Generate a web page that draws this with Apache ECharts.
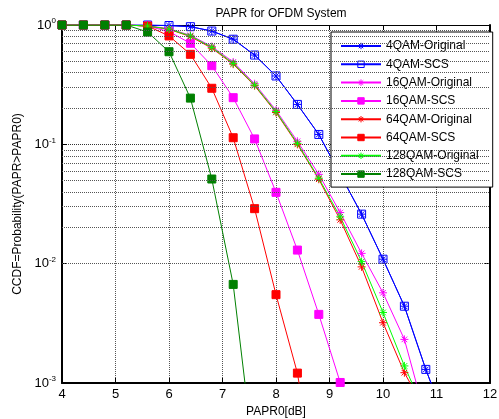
<!DOCTYPE html>
<html>
<head>
<meta charset="utf-8">
<script src="https://cdn.jsdelivr.net/npm/echarts@6/dist/echarts.min.js"></script>
<style>
  html, body { margin: 0; padding: 0; background: #fff; }
  #chart { width: 499px; height: 419px; }
</style>
</head>
<body>
<div id="chart"></div>
<script>
// PAPR0 en dB (pas de 0.4)
const papr = [4, 4.4, 4.8, 5.2, 5.6, 6.0, 6.4, 6.8, 7.2, 7.6, 8.0, 8.4, 8.8, 9.2, 9.6, 10.0, 10.4, 10.8, 11.2];

// valeurs CCDF
const qam4Original   = [1, 1, 1, 1, 1, 0.99, 0.968, 0.89, 0.76, 0.56, 0.374, 0.216, 0.121, 0.056, 0.026, 0.0109, 0.0044, 0.0013, 0.00044];
const qam4Scs        = [1, 1, 1, 1, 1, 0.99, 0.968, 0.89, 0.76, 0.56, 0.374, 0.216, 0.121, 0.056, 0.026, 0.0109, 0.0044, 0.0013, 0.00044];
const qam16Original  = [1, 1, 1, 1, 0.985, 0.93, 0.82, 0.66, 0.49, 0.322, 0.193, 0.106, 0.056, 0.0268, 0.0122, 0.0057, 0.00232, 0.00051];
const qam16Scs       = [1, 1, 1, 1, 0.98, 0.88, 0.703, 0.456, 0.246, 0.111, 0.0396, 0.013, 0.00376, 0.00101, 0.00027];
const qam64Original  = [1, 1, 1, 1, 0.98, 0.92, 0.8, 0.64, 0.47, 0.31, 0.185, 0.1, 0.051, 0.0233, 0.0094, 0.0032, 0.00122, 0.00058];
const qam64Scs       = [1, 1, 1, 1, 0.98, 0.81, 0.568, 0.295, 0.1136, 0.0289, 0.0055, 0.00121, 0.0001];
const qam128Original = [1, 1, 1, 1, 0.98, 0.925, 0.81, 0.65, 0.477, 0.314, 0.188, 0.102, 0.052, 0.0247, 0.0104, 0.0039, 0.00139, 0.00055];
const qam128Scs      = [1, 1, 1, 1, 0.873, 0.597, 0.244, 0.0512, 0.0067, 0.00021];

const yMinor = [0.9, 0.8, 0.7, 0.6, 0.5, 0.4, 0.3, 0.2,
                0.09, 0.08, 0.07, 0.06, 0.05, 0.04, 0.03, 0.02,
                0.009, 0.008, 0.007, 0.006, 0.005, 0.004, 0.003, 0.002];

const asterisco = 'path://M0,5L10,5M5,0L5,10M1.5,1.5L8.5,8.5M8.5,1.5L1.5,8.5';

function serie(nombre, valores, color, simbolo, tam, hueco) {
  return {
    name: nombre,
    type: 'line',
    data: valores.map((v, i) => [papr[i], v]),
    symbol: simbolo,
    symbolSize: tam,
    showAllSymbol: true,
    lineStyle: { color: color, width: 1 },
    itemStyle: {
      color: hueco ? 'transparent' : color,
      borderColor: color,
      borderWidth: 1
    },
    clip: true,
    animation: false
  };
}

const fuente = 'Liberation Sans, Arial, sans-serif';

const series = [
  serie('4QAM-Original', qam4Original, '#0000ff', asterisco, 8, false),
  serie('4QAM-SCS', qam4Scs, '#0000ff', 'rect', 8, true),
  serie('16QAM-Original', qam16Original, '#ff00ff', asterisco, 8, false),
  serie('16QAM-SCS', qam16Scs, '#ff00ff', 'rect', 8, false),
  serie('64QAM-Original', qam64Original, '#ff0000', asterisco, 8, false),
  serie('64QAM-SCS', qam64Scs, '#ff0000', 'rect', 8, false),
  serie('128QAM-Original', qam128Original, '#00ff00', asterisco, 8, false),
  serie('128QAM-SCS', qam128Scs, '#008000', 'rect', 8, false)
];

// rejilla menor (lineas punteadas entre decadas)
series[0].markLine = {
  silent: true,
  symbol: 'none',
  label: { show: false },
  animation: false,
  lineStyle: { color: '#555', type: [1, 1], width: 1 },
  data: yMinor.map(v => ({ yAxis: v }))
};

const ejeY = {
  type: 'log',
  logBase: 10,
  min: 0.001,
  max: 1,
  axisLine: { show: true, lineStyle: { color: '#000', width: 2 } },
  axisTick: { show: true, inside: true, length: 5, lineStyle: { color: '#000' } }
};

const opciones = {
  backgroundColor: '#fff',
  animation: false,
  title: {
    text: 'PAPR for OFDM System',
    left: 276,
    textAlign: 'center',
    top: 3,
    textStyle: { fontFamily: fuente, fontSize: 12, fontWeight: 'normal', color: '#000' }
  },
  legend: {
    orient: 'vertical',
    left: 331,
    top: 32,
    padding: [7, 14, 6, 9],
    itemWidth: 40,
    itemHeight: 8,
    itemGap: 4.3,
    backgroundColor: '#fff',
    borderColor: '#000',
    borderWidth: 1,
    itemStyle: { borderWidth: 1 },
    textStyle: { fontFamily: fuente, fontSize: 12, color: '#000', lineHeight: 14 },
    data: series.map(s => s.name)
  },
  grid: { left: 62, right: 9, top: 25, bottom: 36, outerBoundsMode: 'none', containLabel: false },
  xAxis: [
    {
      type: 'value',
      min: 4,
      max: 12,
      interval: 1,
      name: 'PAPR0[dB]',
      nameLocation: 'middle',
      nameGap: 22,
      nameTextStyle: { fontFamily: fuente, fontSize: 12, color: '#000' },
      axisLine: { lineStyle: { color: '#000', width: 2 } },
      axisTick: { inside: true, length: 5, lineStyle: { color: '#000' } },
      axisLabel: { fontFamily: fuente, fontSize: 13, color: '#000', margin: 5 },
      splitLine: { show: true, lineStyle: { color: '#555', type: [1, 1] } }
    },
    {
      type: 'value',
      position: 'top',
      min: 4,
      max: 12,
      interval: 1,
      axisLine: { show: true, lineStyle: { color: '#000', width: 1 } },
      axisTick: { show: true, inside: true, length: 5, lineStyle: { color: '#000' } },
      axisLabel: { show: false },
      splitLine: { show: false }
    }
  ],
  yAxis: [
    Object.assign({}, ejeY, {
      name: 'CCDF=Probability(PAPR>PAPR0)',
      nameLocation: 'middle',
      nameGap: 38,
      nameTextStyle: { fontFamily: fuente, fontSize: 12, color: '#000' },
      axisLabel: {
        color: '#000',
        margin: 6,
        formatter: v => '{b|10}{s|' + Math.round(Math.log10(v)) + '}',
        rich: {
          b: { fontFamily: fuente, fontSize: 13, color: '#000' },
          s: { fontFamily: fuente, fontSize: 8, color: '#000', verticalAlign: 'bottom', padding: [0, 0, 8, 0] }
        }
      },
      splitLine: { show: true, lineStyle: { color: '#333', type: [1, 1] } }
    }),
    Object.assign({}, ejeY, {
      position: 'right',
      axisLabel: { show: false },
      splitLine: { show: false }
    })
  ],
  series: series
};

const grafico = echarts.init(document.getElementById('chart'));
grafico.setOption(opciones);
</script>
</body>
</html>
